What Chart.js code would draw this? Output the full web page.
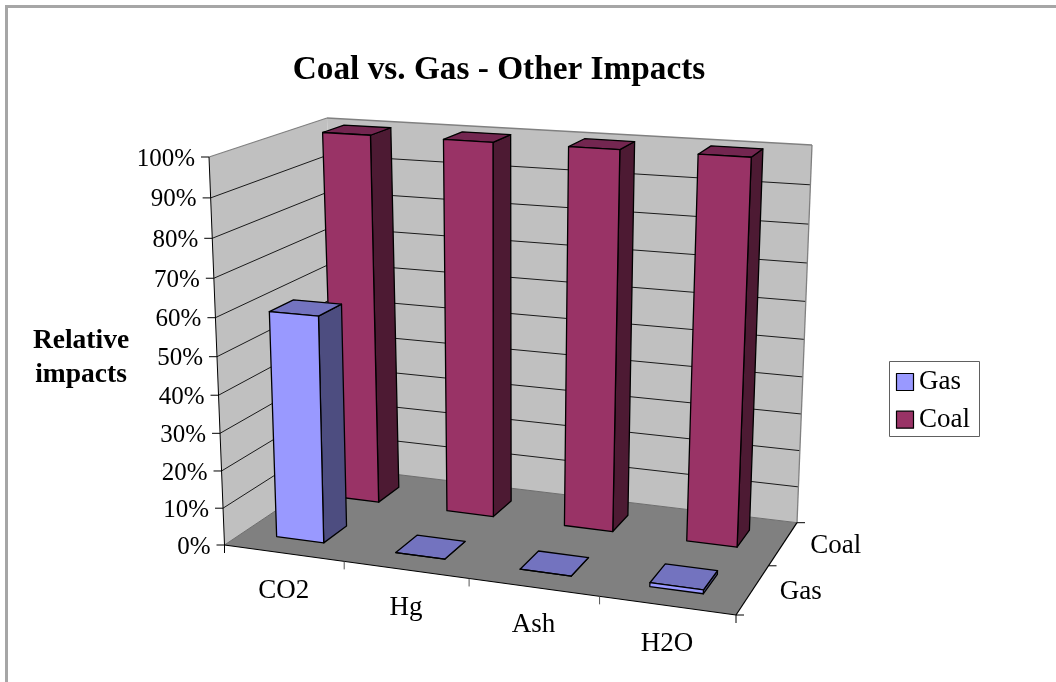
<!DOCTYPE html>
<html><head><meta charset="utf-8">
<style>html,body{margin:0;padding:0;background:#fff}canvas{display:block}</style>
<script src="https://cdn.jsdelivr.net/npm/chart.js@4"></script></head>
<body><canvas id="c" width="1056" height="682"></canvas>
<script>
const categories = ['CO2', 'Hg', 'Ash', 'H2O'];
const seriesNames = ['Gas', 'Coal'];
const gasValues = [60, 0, 0, 1];
const coalValues = [100, 100, 100, 100];
const valueTicks = [0, 10, 20, 30, 40, 50, 60, 70, 80, 90, 100];
const chartTitle = 'Coal vs. Gas - Other Impacts';
const valueAxisTitle = ['Relative', 'impacts'];

const FONT = '"Liberation Serif", serif';
const GAS = '#9999ff', GAS_SIDE = '#4d4d80', GAS_TOP = '#7373bf';
const COAL = '#993366', COAL_SIDE = '#4d1a33', COAL_TOP = '#732650';
// Screen outline of the 3D box: floor and top plane, [front-left, front-right, back-right, back-left]
const FLOOR = [[224.5,545],[736,615],[797,522.7],[340,467.6]];
const ROOF  = [[209,157],[755,191],[812,145],[327,118]];
const PERSP = 0.943;
const BAR_SHIFT = -0.004;

function quadMap(q){
  const [p0,p1,p2,p3]=q;
  const dx1=p1[0]-p2[0],dx2=p3[0]-p2[0],sx=p0[0]-p1[0]+p2[0]-p3[0];
  const dy1=p1[1]-p2[1],dy2=p3[1]-p2[1],sy=p0[1]-p1[1]+p2[1]-p3[1];
  const det=dx1*dy2-dx2*dy1;
  const g=(sx*dy2-dx2*sy)/det,h=(dx1*sy-sx*dy1)/det;
  const a=p1[0]-p0[0]+g*p1[0],b=p3[0]-p0[0]+h*p3[0],c=p0[0];
  const d=p1[1]-p0[1]+g*p1[1],e=p3[1]-p0[1]+h*p3[1],f=p0[1];
  return (u,v)=>{const w=g*u+h*v+1;return [(a*u+b*v+c)/w,(d*u+e*v+f)/w];};
}
const floorAt=quadMap(FLOOR), roofAt=quadMap(ROOF);
// u along categories, d into the depth, v up the value axis (all 0..1)
function project(u,d,v){
  const B=floorAt(u,d),T=roofAt(u,d);
  const wb=(1-v),wt=v*PERSP,s=wb+wt;
  return [(B[0]*wb+T[0]*wt)/s,(B[1]*wb+T[1]*wt)/s];
}
function poly(ctx,pts,fill,stroke,lw){
  ctx.beginPath();pts.forEach((p,i)=>i?ctx.lineTo(p[0],p[1]):ctx.moveTo(p[0],p[1]));ctx.closePath();
  if(fill){ctx.fillStyle=fill;ctx.fill();}
  if(stroke){ctx.strokeStyle=stroke;ctx.lineWidth=lw||1;ctx.stroke();}
}
function seg(ctx,a,b,color,lw){
  ctx.beginPath();ctx.moveTo(a[0],a[1]);ctx.lineTo(b[0],b[1]);ctx.strokeStyle=color;ctx.lineWidth=lw||1;ctx.stroke();
}
function txt(ctx,s,x,y,font,align){
  ctx.font=font;ctx.fillStyle='#000';ctx.textAlign=align||'center';ctx.textBaseline='middle';ctx.fillText(s,x,y);
}

const scene3d={
  id:'scene3d',
  beforeDraw(chart){
    const ctx=chart.ctx;ctx.save();
    ctx.fillStyle='#fff';ctx.fillRect(0,0,chart.width,chart.height);
    ctx.strokeStyle='#a6a6a6';ctx.lineWidth=3;
    ctx.beginPath();ctx.moveTo(6.5,chart.height+5);ctx.lineTo(6.5,6.5);ctx.lineTo(chart.width+5,6.5);ctx.stroke();
    ctx.restore();
  },
  beforeDatasetsDraw(chart){
    const ctx=chart.ctx,xS=chart.scales.x,yS=chart.scales.y;
    const vOf=val=>(yS.bottom-yS.getPixelForValue(val))/(yS.bottom-yS.top);
    const uOf=i=>(xS.getPixelForValue(i)-xS.left)/xS.width;
    const nCat=categories.length,nSer=chart.data.datasets.length;
    ctx.save();ctx.lineJoin='round';
    // walls and floor
    poly(ctx,[project(0,1,0),project(1,1,0),project(1,1,1),project(0,1,1)],'#c0c0c0');
    poly(ctx,[project(0,0,0),project(0,1,0),project(0,1,1),project(0,0,1)],'#c0c0c0');
    poly(ctx,[project(0,0,0),project(1,0,0),project(1,1,0),project(0,1,0)],'#808080');
    // gridlines
    valueTicks.forEach(t=>{
      const v=vOf(t);
      if(t>0&&t<100){
        seg(ctx,project(0,0,v),project(0,1,v),'#1a1a1a');
        seg(ctx,project(0,1,v),project(1,1,v),'#1a1a1a');
      }
      const a=project(0,0,v);
      seg(ctx,a,[a[0]-8,a[1]],'#000');
      txt(ctx,t+'%',a[0]-14,a[1]+2,'25px '+FONT,'right');
    });
    // wall outlines
    seg(ctx,project(0,0,1),project(0,1,1),'#808080',1.3);
    seg(ctx,project(0,1,1),project(1,1,1),'#808080',1.3);
    seg(ctx,project(1,1,1),project(1,1,0),'#808080',1.3);
    seg(ctx,project(0,1,0),project(1,1,0),'#6e6e6e');
    seg(ctx,project(0,0,0),project(0,1,0),'#6e6e6e');
    seg(ctx,project(0,0,0),project(0,0,1),'#000');
    seg(ctx,project(0,0,0),project(1,0,0),'#000',1.2);
    seg(ctx,project(1,0,0),project(1,1,0),'#000',1.2);
    // category ticks and labels
    for(let i=0;i<=nCat;i++){
      const p=project(i/nCat,0,0);
      seg(ctx,p,[p[0],p[1]+8],i==0||i==nCat?'#000':'#555');
    }
    categories.forEach((c,i)=>{
      const p=project(uOf(i),0,0);
      txt(ctx,c,p[0],p[1]+38,'27px '+FONT);
    });
    // depth ticks and labels
    for(let j=0;j<=nSer;j++){
      const p=project(1,j/nSer,0);
      seg(ctx,p,[p[0]+8,p[1]],'#000');
    }
    seriesNames.forEach((s,j)=>{
      const p=project(1,(j+.5)/nSer,0);
      txt(ctx,s,p[0]+27,p[1]+2,'27px '+FONT,'left');
    });
    // bars, back row first
    const halfU=0.2/nCat, halfD=0.2/nSer;
    for(let j=nSer-1;j>=0;j--){
      const ds=chart.data.datasets[j];
      const side=j==0?GAS_SIDE:COAL_SIDE, top=j==0?GAS_TOP:COAL_TOP;
      const d0=(j+.5)/nSer-halfD,d1=(j+.5)/nSer+halfD;
      ds.data.forEach((val,i)=>{
        const u0=uOf(i)+BAR_SHIFT-halfU,u1=uOf(i)+BAR_SHIFT+halfU,v=vOf(val);
        poly(ctx,[project(u1,d0,0),project(u1,d1,0),project(u1,d1,v),project(u1,d0,v)],side,'#000',1.3);
        poly(ctx,[project(u0,d0,v),project(u1,d0,v),project(u1,d1,v),project(u0,d1,v)],top,'#000',1.3);
        poly(ctx,[project(u0,d0,0),project(u1,d0,0),project(u1,d0,v),project(u0,d0,v)],ds.backgroundColor,'#000',1.3);
      });
    }
    // value axis title
    txt(ctx,valueAxisTitle[0],81,341,'bold 27.5px '+FONT);
    txt(ctx,valueAxisTitle[1],81,375,'bold 27.5px '+FONT);
    // legend
    ctx.fillStyle='#fff';ctx.strokeStyle='#606060';ctx.lineWidth=1;
    ctx.fillRect(889.5,361.5,90,75);ctx.strokeRect(889.5,361.5,90,75);
    chart.data.datasets.forEach((ds,j)=>{
      const y=373.5+j*37.7;
      ctx.fillStyle=ds.backgroundColor;ctx.fillRect(896.5,y,17,17);
      ctx.strokeStyle='#000';ctx.lineWidth=1.2;ctx.strokeRect(896.5,y,17,17);
      txt(ctx,ds.label,919,y+8.5,'27px '+FONT,'left');
    });
    ctx.restore();
    return false;
  }
};

new Chart(document.getElementById('c'),{
  type:'bar',
  data:{labels:categories,datasets:[
    {label:seriesNames[0],data:gasValues,backgroundColor:GAS,borderColor:'#000',borderWidth:1},
    {label:seriesNames[1],data:coalValues,backgroundColor:COAL,borderColor:'#000',borderWidth:1}
  ]},
  options:{
    responsive:false,animation:false,
    layout:{padding:{right:58,bottom:60}},
    plugins:{
      legend:{display:false},tooltip:{enabled:false},
      title:{display:true,text:chartTitle,color:'#000',font:{family:FONT,size:33.3,weight:'bold'},padding:{top:50,bottom:10}}
    },
    scales:{
      x:{display:false},
      y:{display:false,min:0,max:100}
    }
  },
  plugins:[scene3d]
});
</script></body></html>
